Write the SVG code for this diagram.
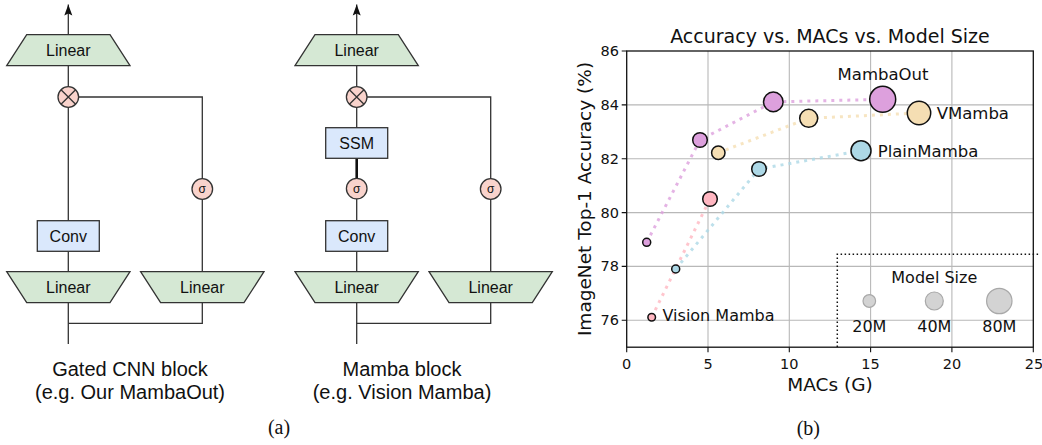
<svg xmlns="http://www.w3.org/2000/svg" width="1042" height="445" viewBox="0 0 1042 445">
<style>
.ln{fill:none;stroke:#333;stroke-width:1.3}
.thick{fill:none;stroke:#111;stroke-width:2.6}
.lin{fill:#d5e8d4;stroke:#333;stroke-width:1.3}
.box{fill:#dae8fc;stroke:#333;stroke-width:1.3}
.op{fill:#f9d3cc;stroke:#333;stroke-width:1.3}
.nt{font-family:"Liberation Sans",Arial,sans-serif;font-size:16px;fill:#111;text-anchor:middle}
.sg{font-family:"Liberation Sans",Arial,sans-serif;font-size:12px;fill:#111;text-anchor:middle}
.cap{font-family:"Liberation Sans",Arial,sans-serif;font-size:20px;fill:#111;text-anchor:middle}
.sub{font-family:"Liberation Serif","Times New Roman",serif;font-size:20px;fill:#111;text-anchor:middle}
.dj{font-family:"DejaVu Sans",sans-serif;fill:#111}
.grid{stroke:#b8b8b8;stroke-width:1.1;fill:none}
.tick{stroke:#111;stroke-width:1.1;fill:none}
.ser{fill:none;stroke-width:3;stroke-dasharray:3 5;opacity:0.8}
.mk{stroke:#111;stroke-width:1.5}
.lg{fill:#d3d3d3;stroke:#a8a8a8;stroke-width:1.2}
</style>
<defs>
<marker id="arr" viewBox="0 0 12 10" refX="11" refY="5" markerWidth="12" markerHeight="10" markerUnits="userSpaceOnUse" orient="auto">
<path d="M0 1 L11 5 L0 9 L2 5 Z" fill="#111"/>
</marker>
</defs>

<!-- (a) left: Gated CNN block -->
<g id="connectors-a">
<path class="ln" d="M68.3 34.7 V4.5" marker-end="url(#arr)"/>
<path class="ln" d="M68.3 65.7 V86.7"/>
<path class="ln" d="M68.3 107.3 V220.7"/>
<path class="ln" d="M68.3 251.3 V271.7"/>
<path class="ln" d="M68.3 302.7 V344"/>
<path class="ln" d="M202.3 302.7 V323.3 H68.3"/>
<path class="ln" d="M202.3 271.7 V199.3"/>
<path class="ln" d="M202.3 178.7 V97 H78.6"/>
<path class="ln" d="M356.7 34.7 V4.5" marker-end="url(#arr)"/>
<path class="ln" d="M356.7 65.7 V86.7"/>
<path class="ln" d="M356.7 107.3 V127.7"/>
<path class="thick" d="M356.7 158.3 V178"/>
<path class="ln" d="M356.7 199 V220.7"/>
<path class="ln" d="M356.7 251.3 V271.7"/>
<path class="ln" d="M356.7 302.7 V344"/>
<path class="ln" d="M490.7 302.7 V323.3 H356.7"/>
<path class="ln" d="M490.7 271.7 V199.3"/>
<path class="ln" d="M490.7 178.7 V97 H367"/>
</g>

<g id="g-linear-top">
<polygon class="lin" points="26.7,34.7 110,34.7 130,65.7 6.7,65.7"/>
<text class="nt" x="68.3" y="55.9">Linear</text>
</g>
<g id="g-mul">
<circle class="op" cx="68.3" cy="97" r="10.3"/>
<path class="ln" d="M61 89.7 L75.6 104.3 M75.6 89.7 L61 104.3"/>
</g>
<g id="g-sigma">
<circle class="op" cx="202.3" cy="189" r="10.3"/>
<text class="sg" x="202.3" y="193.2">σ</text>
</g>
<g id="g-conv">
<rect class="box" x="37.3" y="220.7" width="62" height="30.6"/>
<text class="nt" x="68.3" y="241.7">Conv</text>
</g>
<g id="g-linear-l">
<polygon class="lin" points="6.7,271.7 130,271.7 110,302.7 26.7,302.7"/>
<text class="nt" x="68.3" y="292.9">Linear</text>
</g>
<g id="g-linear-r">
<polygon class="lin" points="140.6,271.7 264,271.7 244,302.7 160.6,302.7"/>
<text class="nt" x="202.3" y="292.9">Linear</text>
</g>
<g id="g-caption">
<text class="cap" x="130" y="375.7">Gated CNN block</text>
<text class="cap" x="130" y="398.5">(e.g. Our MambaOut)</text>
</g>

<!-- Mamba block -->
<g id="m-linear-top">
<polygon class="lin" points="315,34.7 398.3,34.7 418.3,65.7 295,65.7"/>
<text class="nt" x="356.7" y="55.9">Linear</text>
</g>
<g id="m-mul">
<circle class="op" cx="356.7" cy="97" r="10.3"/>
<path class="ln" d="M349.4 89.7 L364 104.3 M364 89.7 L349.4 104.3"/>
</g>
<g id="m-ssm">
<rect class="box" x="325.7" y="127.7" width="62" height="30.6"/>
<text class="nt" x="356.7" y="148.7">SSM</text>
</g>
<g id="m-sigma1">
<circle class="op" cx="356.7" cy="188.6" r="10.3"/>
<text class="sg" x="356.7" y="192.8">σ</text>
</g>
<g id="m-sigma2">
<circle class="op" cx="490.7" cy="189" r="10.3"/>
<text class="sg" x="490.7" y="193.2">σ</text>
</g>
<g id="m-conv">
<rect class="box" x="325.7" y="220.7" width="62" height="30.6"/>
<text class="nt" x="356.7" y="241.7">Conv</text>
</g>
<g id="m-linear-l">
<polygon class="lin" points="295,271.7 418.3,271.7 398.3,302.7 315,302.7"/>
<text class="nt" x="356.7" y="292.9">Linear</text>
</g>
<g id="m-linear-r">
<polygon class="lin" points="429,271.7 552.3,271.7 532.3,302.7 449,302.7"/>
<text class="nt" x="490.7" y="292.9">Linear</text>
</g>
<g id="m-caption">
<text class="cap" x="402" y="375.7">Mamba block</text>
<text class="cap" x="402" y="398.5">(e.g. Vision Mamba)</text>
</g>
<text class="sub" x="279" y="434">(a)</text>

<!-- (b) chart -->
<g id="chart">
<g id="grid">
<path class="grid" d="M708 51 V347.2 M789.3 51 V347.2 M870.6 51 V347.2 M951.9 51 V347.2"/>
<path class="grid" d="M626.7 104.9 H1033.3 M626.7 158.7 H1033.3 M626.7 212.6 H1033.3 M626.7 266.4 H1033.3 M626.7 320.3 H1033.3"/>
</g>
<g id="series-lines">
<polyline class="ser" stroke="#DDA0DD" points="646.7,242.3 700,140 773.3,101.9 882.7,99.3"/>
<polyline class="ser" stroke="#F5DEB3" points="718.3,152.7 808.7,118.3 919,113"/>
<polyline class="ser" stroke="#ADD8E6" points="675.7,269 759,169 861,150.7"/>
<polyline class="ser" stroke="#FFB6C1" points="651.7,317.3 710,199"/>
</g>
<g id="markers">
<circle class="mk" fill="#DDA0DD" cx="646.7" cy="242.3" r="4"/>
<circle class="mk" fill="#DDA0DD" cx="700" cy="140" r="7.3"/>
<circle class="mk" fill="#DDA0DD" cx="773.3" cy="101.9" r="9.8"/>
<circle class="mk" fill="#DDA0DD" cx="882.7" cy="99.3" r="13"/>
<circle class="mk" fill="#F5DEB3" cx="718.3" cy="152.7" r="6.7"/>
<circle class="mk" fill="#F5DEB3" cx="808.7" cy="118.3" r="9"/>
<circle class="mk" fill="#F5DEB3" cx="919" cy="113" r="11.7"/>
<circle class="mk" fill="#ADD8E6" cx="675.7" cy="269" r="4"/>
<circle class="mk" fill="#ADD8E6" cx="759" cy="169" r="7.3"/>
<circle class="mk" fill="#ADD8E6" cx="861" cy="150.7" r="10"/>
<circle class="mk" fill="#FFB6C1" cx="651.7" cy="317.3" r="3.8"/>
<circle class="mk" fill="#FFB6C1" cx="710" cy="199" r="7.3"/>
</g>
<g id="data-labels" class="dj" font-size="16.5">
<text x="883" y="80" text-anchor="middle">MambaOut</text>
<text x="936.7" y="119">VMamba</text>
<text x="877.7" y="156.7">PlainMamba</text>
<text x="662.5" y="320.5" font-size="16">Vision Mamba</text>
</g>
<g id="legend">
<path d="M837.3 347 V254.3 H1040" fill="none" stroke="#111" stroke-width="1.5" stroke-dasharray="1.5 2.5"/>
<text class="dj" x="934.3" y="283.3" font-size="16" text-anchor="middle">Model Size</text>
<circle class="lg" cx="869.3" cy="301" r="6.3"/>
<circle class="lg" cx="934.3" cy="301" r="9"/>
<circle class="lg" cx="999.3" cy="301" r="12.7"/>
<g class="dj" font-size="16" text-anchor="middle">
<text x="869.3" y="332">20M</text>
<text x="934.3" y="332">40M</text>
<text x="999.3" y="332">80M</text>
</g>
</g>
<g id="axes">
<rect x="626.7" y="51" width="406.6" height="296.2" fill="none" stroke="#111" stroke-width="1.3"/>
<path class="tick" d="M621.7 51 H626.7 M621.7 104.9 H626.7 M621.7 158.7 H626.7 M621.7 212.6 H626.7 M621.7 266.4 H626.7 M621.7 320.3 H626.7"/>
<path class="tick" d="M626.7 347.2 V352.2 M708 347.2 V352.2 M789.3 347.2 V352.2 M870.6 347.2 V352.2 M951.9 347.2 V352.2 M1033.3 347.2 V352.2"/>
<g class="dj" font-size="14.5" text-anchor="end">
<text x="619" y="56">86</text>
<text x="619" y="109.9">84</text>
<text x="619" y="163.7">82</text>
<text x="619" y="217.6">80</text>
<text x="619" y="271.4">78</text>
<text x="619" y="325.3">76</text>
</g>
<g class="dj" font-size="14.5" text-anchor="middle">
<text x="626.7" y="368.5">0</text>
<text x="708" y="368.5">5</text>
<text x="789.3" y="368.5">10</text>
<text x="870.6" y="368.5">15</text>
<text x="951.9" y="368.5">20</text>
<text x="1034" y="368.5">25</text>
</g>
<text class="dj" x="830" y="43.3" font-size="19" text-anchor="middle">Accuracy vs. MACs vs. Model Size</text>
<text class="dj" x="830" y="390.5" font-size="18.5" text-anchor="middle">MACs (G)</text>
<text class="dj" transform="translate(590.5 199) rotate(-90)" font-size="18.5" text-anchor="middle">ImageNet Top-1 Accuracy (%)</text>
</g>
</g>
<text class="sub" x="808.3" y="435">(b)</text>
</svg>
